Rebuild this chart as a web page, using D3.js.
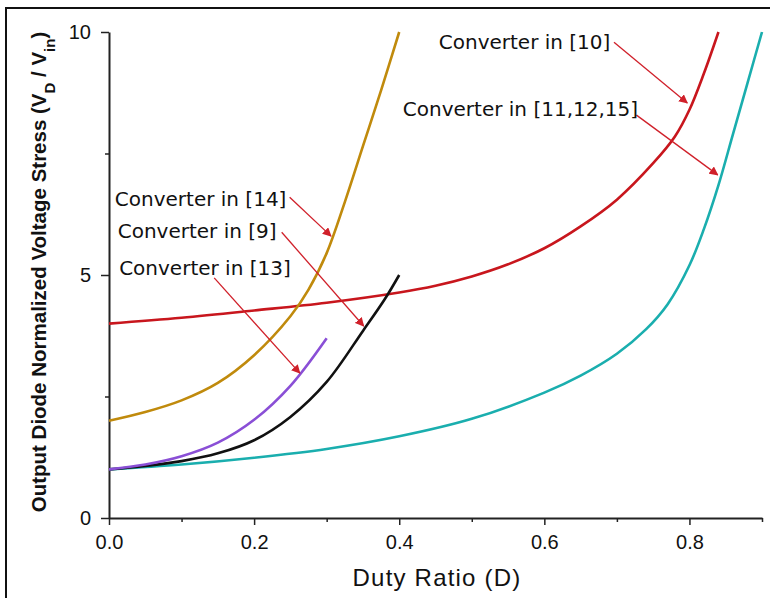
<!DOCTYPE html>
<html>
<head>
<meta charset="utf-8">
<script src="https://cdn.jsdelivr.net/npm/d3@7"></script>
<style>
  body { margin: 0; background: #fff; }
  svg { display: block; }
</style>
</head>
<body>
<div id="chart"></div>
<script>
// Chart size and plot area
const width = 770;
const height = 598;
const margin = {left: 109, right: 7, top: 32, bottom: 80};

// Data (duty ratio D, normalized stress)
const dConv10 = [0, 0.1, 0.2, 0.3, 0.4, 0.45, 0.5, 0.55, 0.6, 0.65, 0.7, 0.75, 0.78, 0.8, 0.82, 0.84];
const vConv10 = [4.0, 4.12, 4.27, 4.43, 4.64, 4.78, 4.97, 5.22, 5.55, 6.0, 6.55, 7.3, 7.85, 8.4, 9.15, 10.0];

const dConv11 = [0, 0.1, 0.2, 0.3, 0.4, 0.5, 0.6, 0.65, 0.7, 0.74, 0.77, 0.8, 0.82, 0.84, 0.86, 0.88, 0.9];
const vConv11 = [1.0, 1.1, 1.24, 1.42, 1.68, 2.04, 2.58, 2.93, 3.38, 3.88, 4.4, 5.2, 5.95, 6.85, 7.9, 8.95, 10.0];

const dConv14 = [0, 0.05, 0.1, 0.15, 0.2, 0.25, 0.275, 0.3, 0.325, 0.35, 0.375, 0.4];
const vConv14 = [2.0, 2.18, 2.42, 2.78, 3.35, 4.15, 4.7, 5.45, 6.5, 7.65, 8.8, 10.0];

const dConv9 = [0, 0.05, 0.1, 0.15, 0.2, 0.25, 0.3, 0.35, 0.38, 0.4];
const vConv9 = [1.0, 1.07, 1.17, 1.33, 1.6, 2.08, 2.8, 3.85, 4.5, 5.0];

const dConv13 = [0, 0.05, 0.1, 0.15, 0.2, 0.25, 0.3];
const vConv13 = [1.0, 1.1, 1.27, 1.55, 2.02, 2.72, 3.7];

const xTicks = [0, 0.2, 0.4, 0.6, 0.8];
const xMinorTicks = [0.1, 0.3, 0.5, 0.7, 0.9];
const yTicks = [0, 5, 10];
const yMinorTicks = [2.5, 7.5];

// Annotation labels: text, label anchor (D, V), arrow start and tip (D, V)
const labelTexts = ["Converter in [14]", "Converter in [9]", "Converter in [13]", "Converter in [10]", "Converter in [11,12,15]"];
const labelPos = [[0.008, 6.42], [0.012, 5.76], [0.014, 5.0], [0.4545, 9.65], [0.405, 8.27]];
const arrowFrom = [[0.249, 6.6], [0.238, 5.88], [0.145, 4.94], [0.696, 9.79], [0.727, 8.29]];
const arrowTo = [[0.306, 5.8], [0.351, 3.95], [0.263, 2.98], [0.797, 8.54], [0.839, 7.06]];

const series = [
  {d: dConv10, v: vConv10, color: "#c8161d"},
  {d: dConv11, v: vConv11, color: "#1aaeae"},
  {d: dConv14, v: vConv14, color: "#c08a0c"},
  {d: dConv9, v: vConv9, color: "#111111"},
  {d: dConv13, v: vConv13, color: "#8a4fd6"}
];

const svg = d3.select("#chart")
  .append("svg")
  .attr("width", width)
  .attr("height", height);

// frame (only top and left edges show in the picture)
svg.append("path")
  .attr("d", `M6,${height} V8 H${width}`)
  .attr("fill", "none")
  .attr("stroke", "#111")
  .attr("stroke-width", 2);

const x = d3.scaleLinear()
  .domain([0, 0.9])
  .range([margin.left, width - margin.right - 1]);

const y = d3.scaleLinear()
  .domain([0, 10])
  .range([height - margin.bottom, margin.top]);

const tickFont = "Liberation Sans, Arial, sans-serif";

// minor ticks
svg.append("g")
  .attr("transform", `translate(0,${y(0)})`)
  .call(d3.axisBottom(x).tickValues(xMinorTicks).tickSize(4).tickFormat(""))
  .call(g => g.select(".domain").remove())
  .call(g => g.selectAll("line").attr("stroke", "#222").attr("stroke-width", 1.5));

svg.append("g")
  .attr("transform", `translate(${x(0)},0)`)
  .call(d3.axisLeft(y).tickValues(yMinorTicks).tickSize(4).tickFormat(""))
  .call(g => g.select(".domain").remove())
  .call(g => g.selectAll("line").attr("stroke", "#222").attr("stroke-width", 1.5));

// x axis
svg.append("g")
  .attr("transform", `translate(0,${y(0)})`)
  .call(d3.axisBottom(x).tickValues(xTicks).tickSize(7).tickSizeOuter(0).tickPadding(10).tickFormat(d3.format(".1f")))
  .call(g => g.select(".domain").attr("stroke", "#222").attr("stroke-width", 2))
  .call(g => g.selectAll("line").attr("stroke", "#222").attr("stroke-width", 1.5))
  .call(g => g.selectAll("text")
    .attr("font-family", tickFont)
    .attr("font-size", "20px")
    .attr("fill", "#111"));

// y axis
svg.append("g")
  .attr("transform", `translate(${x(0)},0)`)
  .call(d3.axisLeft(y).tickValues(yTicks).tickSize(8).tickSizeOuter(0).tickPadding(10))
  .call(g => g.select(".domain").attr("stroke", "#222").attr("stroke-width", 2))
  .call(g => g.selectAll("line").attr("stroke", "#222").attr("stroke-width", 1.5))
  .call(g => g.selectAll("text")
    .attr("font-family", tickFont)
    .attr("font-size", "20px")
    .attr("fill", "#111"));

// axis titles
svg.append("text")
  .attr("x", 437)
  .attr("y", 586)
  .attr("text-anchor", "middle")
  .attr("font-family", tickFont)
  .attr("font-size", "24px")
  .attr("letter-spacing", "1.2px")
  .attr("fill", "#111")
  .text("Duty Ratio (D)");

const yTitle = svg.append("text")
  .attr("transform", `translate(46,${(y(0) + y(10)) / 2 - 3}) rotate(-90)`)
  .attr("text-anchor", "middle")
  .attr("font-family", tickFont)
  .attr("font-weight", "bold")
  .attr("font-size", "20.5px")
  .attr("fill", "#111");
yTitle.append("tspan").text("Output Diode Normalized Voltage Stress (V");
yTitle.append("tspan").attr("baseline-shift", "sub").attr("font-size", "15px").text("D");
yTitle.append("tspan").text(" / V");
yTitle.append("tspan").attr("baseline-shift", "sub").attr("font-size", "15px").text("in");
yTitle.append("tspan").text(")");

// curves
const line = d3.line()
  .x(p => x(p[0]))
  .y(p => y(p[1]))
  .curve(d3.curveCatmullRom.alpha(0.5));

svg.append("g")
  .selectAll("path")
  .data(series)
  .join("path")
  .attr("d", s => line(s.d.map((d, i) => [d, s.v[i]])))
  .attr("fill", "none")
  .attr("stroke", s => s.color)
  .attr("stroke-width", 2.6)
  .attr("stroke-linejoin", "round");

// arrow head marker
svg.append("defs")
  .append("marker")
  .attr("id", "head")
  .attr("viewBox", "0 0 10 10")
  .attr("refX", 9)
  .attr("refY", 5)
  .attr("markerWidth", 9)
  .attr("markerHeight", 9)
  .attr("markerUnits", "userSpaceOnUse")
  .attr("orient", "auto")
  .append("path")
  .attr("d", "M0,0 L10,5 L0,10 Z")
  .attr("fill", "#d0202a");

// annotations
const ann = svg.append("g");
ann.selectAll("line")
  .data(arrowFrom)
  .join("line")
  .attr("x1", p => x(p[0]))
  .attr("y1", p => y(p[1]))
  .attr("x2", (p, i) => x(arrowTo[i][0]))
  .attr("y2", (p, i) => y(arrowTo[i][1]))
  .attr("stroke", "#d0202a")
  .attr("stroke-width", 1.3)
  .attr("marker-end", "url(#head)");

ann.selectAll("text")
  .data(labelTexts)
  .join("text")
  .attr("x", (t, i) => x(labelPos[i][0]))
  .attr("y", (t, i) => y(labelPos[i][1]))
  .attr("font-family", "DejaVu Sans, Verdana, sans-serif")
  .attr("font-size", "20px")
  .attr("fill", "#111")
  .text(t => t);
</script>
</body>
</html>
